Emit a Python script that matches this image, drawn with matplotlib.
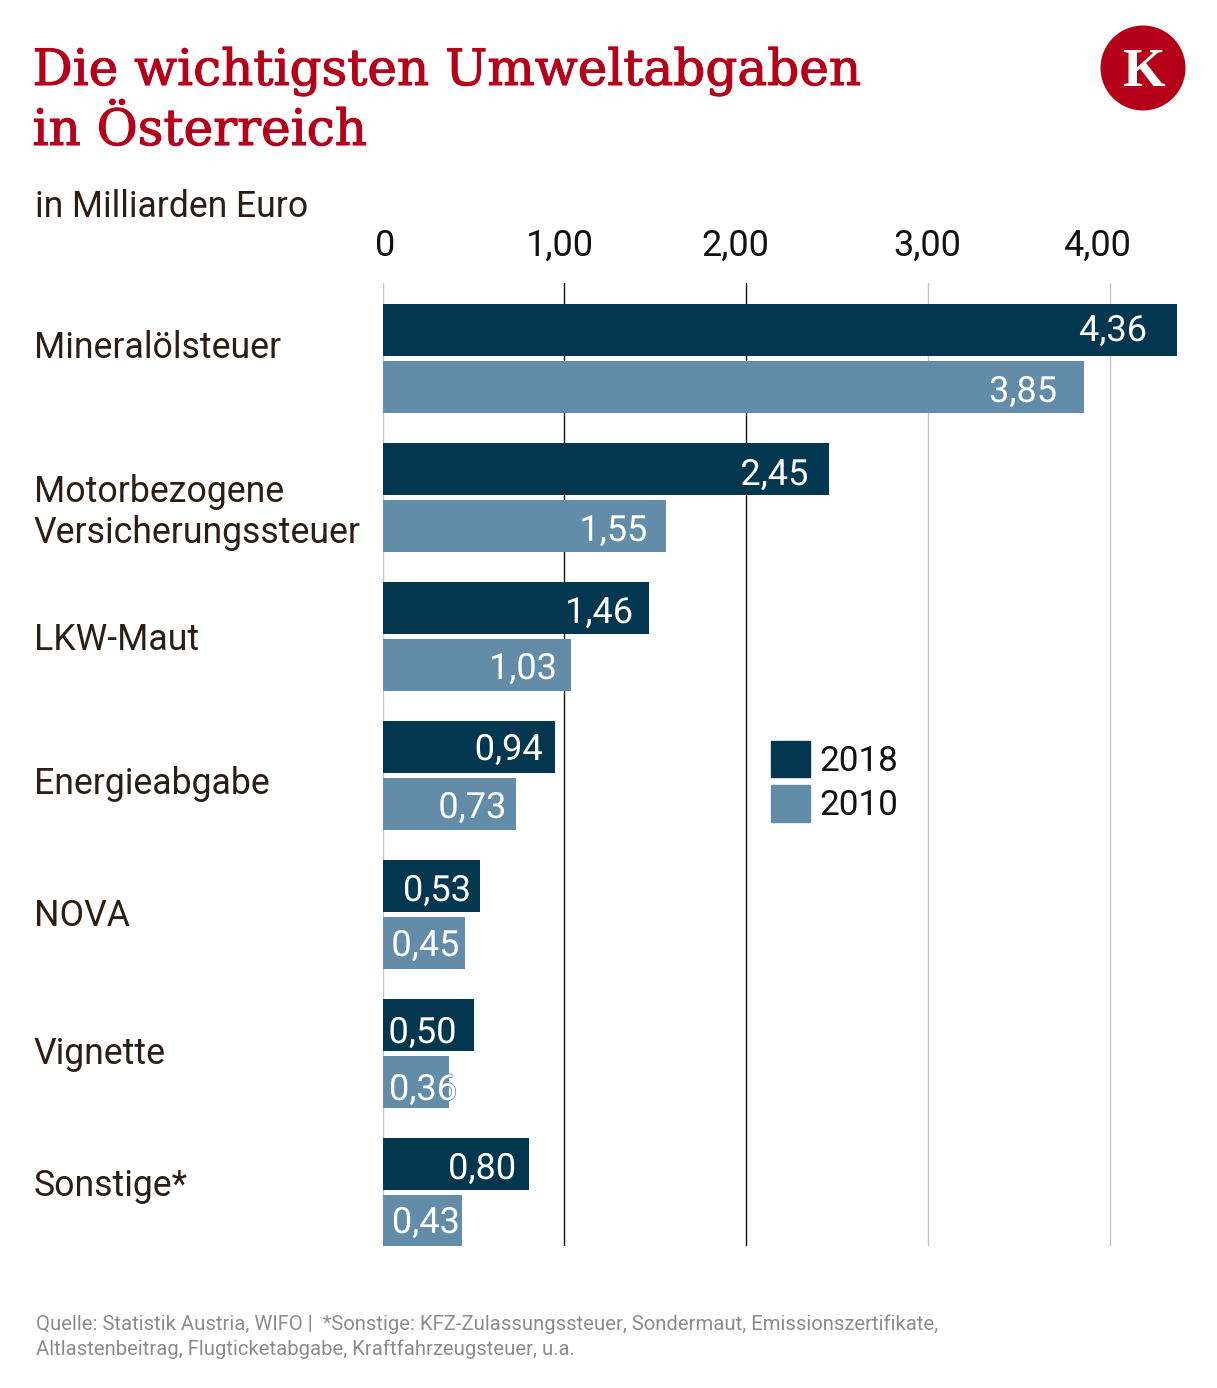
import matplotlib
matplotlib.use('Agg')
from matplotlib import pyplot as plt
from matplotlib.patches import Circle, Patch
from matplotlib.transforms import ScaledTranslation
import matplotlib.patheffects as pe
import numpy as np

categories = ['Mineralölsteuer', 'Motorbezogene\nVersicherungssteuer', 'LKW-Maut',
              'Energieabgabe', 'NOVA', 'Vignette', 'Sonstige*']
values_2018 = [4.36, 2.45, 1.46, 0.94, 0.53, 0.50, 0.80]
values_2010 = [3.85, 1.55, 1.03, 0.73, 0.45, 0.36, 0.43]
xticks = [0, 1, 2, 3, 4]
xticklabels = ['0', '1,00', '2,00', '3,00', '4,00']

# the labels are not placed consistently in the original, offsets in px
offs_2018 = [(-30, -1), (-21, -6), (-16, -5), (-12, -3), (-9, -5), (-18, -8), (-13, -5)]
offs_2010 = [(-27, -5), (-18, -5), (-14, -4), (-10, -4), (-6, -3), (8, -8), (-2, -2)]
offs_cat = [11, -15, -4, -8, -2, -1, 7]
offs_tick = [2, -6, -12, -2, -15]

DARK = '#02374f'
LIGHT = '#628ca8'
RED = '#b50019'
TEXT = '#2c1e14'

W, H = 1217, 1388
plt.rcParams['font.family'] = ['Roboto', 'DejaVu Sans']
fig = plt.figure(figsize=(W / 100, H / 100), dpi=100)

# main axes, in pixels of the picture
left, right, top, bottom = 383.5, 1217, 283, 1246
ax = fig.add_axes([left / W, 1 - bottom / H, (right - left) / W, (bottom - top) / H])
ax.set_xlim(0, (right - left) / 182)
ax.set_ylim((bottom - 358.5) / 139, (top - 358.5) / 139)
for s in ax.spines.values():
    s.set_visible(False)
ax.set_xticks([])
ax.set_yticks([])

# gridlines sit 2px left of the bar scale in the original
grid_shift = ax.get_xaxis_transform() + ScaledTranslation(-2 / 100, 0, fig.dpi_scale_trans)
for t, col in zip(xticks[1:], ['#111111', '#111111', '#c4c4c4', '#c4c4c4']):
    ax.plot([t, t], [0, 1], transform=grid_shift, color=col, lw=1.0, zorder=1)
ax.axvline(xticks[0], color='#c4c4c4', lw=1.0, zorder=1)

y = np.arange(len(categories))
ax.barh(y - 0.205, values_2018, height=0.374, color=DARK, zorder=2)
ax.barh(y + 0.205, values_2010, height=0.374, color=LIGHT, zorder=2)

for i in range(len(categories)):
    ax.annotate(f'{values_2018[i]:.2f}'.replace('.', ','), xy=(values_2018[i], i - 0.205),
                xytext=offs_2018[i], textcoords='offset pixels', ha='right', va='center',
                color='white', fontsize=26, zorder=3,
                path_effects=[pe.withStroke(linewidth=1, foreground=DARK)])
    ax.annotate(f'{values_2010[i]:.2f}'.replace('.', ','), xy=(values_2010[i], i + 0.205),
                xytext=offs_2010[i], textcoords='offset pixels', ha='right', va='center',
                color='white', fontsize=26, zorder=3,
                path_effects=[pe.withStroke(linewidth=1.2, foreground=LIGHT)])
    ax.annotate(categories[i], xy=(34, i), xycoords=('figure pixels', 'data'),
                xytext=(0, offs_cat[i]), textcoords='offset pixels', ha='left', va='center',
                color=TEXT, fontsize=25.7, linespacing=1.19, annotation_clip=False)

for t, lab, o in zip(xticks, xticklabels, offs_tick):
    ax.annotate(lab, xy=(t, 1.0), xycoords=('data', 'axes fraction'), xytext=(o, 37),
                textcoords='offset pixels', ha='center', va='center', fontsize=26,
                color='#111111', annotation_clip=False)

handles = [Patch(color=DARK, label='2018'), Patch(color=LIGHT, label='2010')]
ax.legend(handles=handles, loc='upper left', bbox_to_anchor=(771 / W, 1 - 741 / H),
          bbox_transform=fig.transFigure, frameon=False, fontsize=25.3, borderpad=0,
          borderaxespad=0, handlelength=1.12, handleheight=1.22, handletextpad=0.25,
          labelspacing=0.2, labelcolor='#111111')

# overlay in pixel coordinates for title, logo, footer
ov = fig.add_axes([0, 0, 1, 1], facecolor='none')
ov.set_xlim(0, W)
ov.set_ylim(H, 0)
ov.axis('off')

serif = ['DejaVu Serif']
heavier = [pe.withStroke(linewidth=0.8, foreground=RED)]
ov.text(32.5, 85, 'Die wichtigsten Umweltabgaben', family=serif, fontsize=36.05, color=RED,
        va='baseline', path_effects=heavier)
ov.text(32.5, 145, 'in Österreich', family=serif, fontsize=36.05, color=RED,
        va='baseline', path_effects=heavier)
ov.text(35, 207, 'in Milliarden Euro', fontsize=25.6, color=TEXT, va='center')

ov.add_patch(Circle((1143, 68), 42.5, color=RED, lw=0))
ov.text(1143.5, 86, 'K', family=['Liberation Serif'], fontweight='bold', fontsize=39.5, color='white',
        ha='center', va='baseline')

ov.text(36, 1336.5, 'Quelle: Statistik Austria, WIFO |  *Sonstige: KFZ-Zulassungssteuer, Sondermaut, '
        'Emissionszertifikate,\nAltlastenbeitrag, Flugticketabgabe, Kraftfahrzeugsteuer, u.a.',
        fontsize=14.6, color='#8c8c8c', va='center', linespacing=1.33)

fig.savefig('out.png', dpi=100)
